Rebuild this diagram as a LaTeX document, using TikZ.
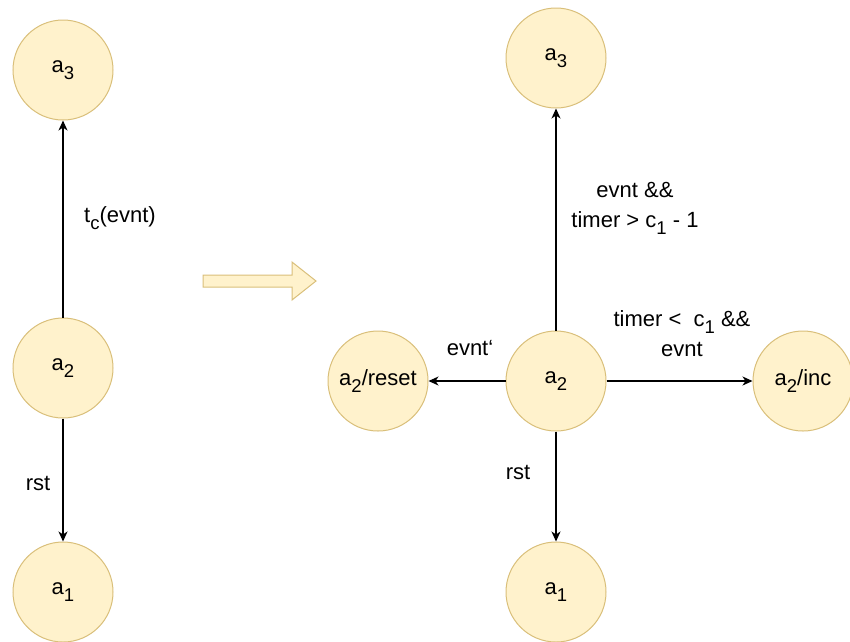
\documentclass[tikz,border=0pt]{standalone}
\usepackage{fontspec}
\setmainfont{Liberation Sans}
\usetikzlibrary{arrows.meta}
\definecolor{nfill}{HTML}{FFF2CC}
\definecolor{nline}{HTML}{D9BF7A}
\newcommand\sbs[1]{\raisebox{-0.32em}{\fontsize{18.5}{18.5}\selectfont #1}}
\begin{document}
\begin{tikzpicture}[x=1pt,y=-1pt,
  state/.style={circle,draw=nline,fill=nfill,line width=1pt,minimum size=100pt,inner sep=0pt,font=\fontsize{22}{26}\selectfont},
  lbl/.style={font=\fontsize{22}{30}\selectfont,align=center,inner sep=0pt},
  edge/.style={-{Stealth[length=10pt,width=9pt,inset=3pt]},line width=1.2pt},
  bigarrow/.style={draw=nline,fill=nfill,line width=1pt,line join=miter}]
\useasboundingbox (0,0) rectangle (850,641);
% left column
\node[state] (L3) at (63,70) {a\sbs{3}};
\node[state] (L2) at (63,368) {a\sbs{2}};
\node[state] (L1) at (63,592) {a\sbs{1}};
\draw[edge] (L2) -- (L3);
\draw[edge] (L2) -- (L1);
\node[lbl] (ltc) at (120,218) {t\sbs{c}(evnt)};
\node[lbl] (lrst) at (38,483) {rst};
% transform arrow
\path[bigarrow] (203,275) -- (292,275) -- (292,262) -- (316,281) -- (292,300) -- (292,287) -- (203,287) -- cycle;
% right column
\node[state] (R3) at (556,58) {a\sbs{3}};
\node[state] (R2) at (556,381) {a\sbs{2}};
\node[state] (R1) at (556,592) {a\sbs{1}};
\node[state] (RR) at (378,381) {a\sbs{2}/reset};
\node[state] (RI) at (803,381) {a\sbs{2}/inc};
\draw[edge] (R2) -- (R3);
\draw[edge] (R2) -- (R1);
\draw[edge] (R2) -- (RR);
\draw[edge] (R2) -- (RI);
\node[lbl] (rup) at (635,208) {evnt \&\&\\timer {\char62} c\sbs{1} - 1};
\node[lbl] (rinc) at (682,334) {timer {\char60}\ \ c\sbs{1} \&\&\\evnt};
\node[lbl] (rres) at (470,348) {evnt{\char96}};
\node[lbl] (rrst) at (518,472) {rst};
\end{tikzpicture}
\end{document}
